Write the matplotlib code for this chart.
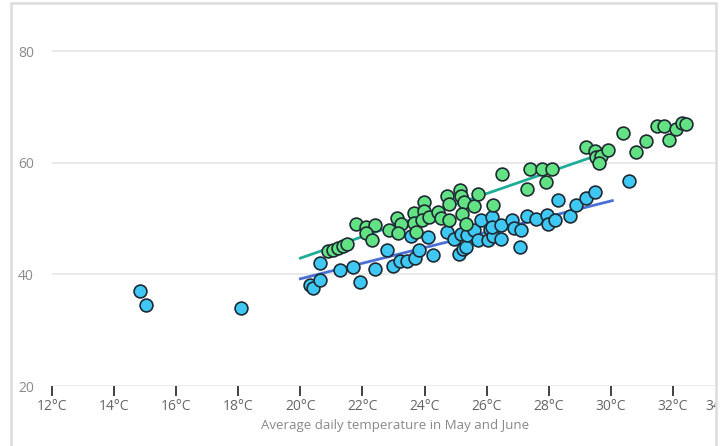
import matplotlib
matplotlib.use("Agg")
import matplotlib.pyplot as plt
from matplotlib.patches import Rectangle

plt.rcParams['font.family'] = ['Open Sans', 'DejaVu Sans']

# temperature (°C) vs value, two groups
blue_temp = [14.83, 15.02, 18.1, 20.3, 20.42, 20.62, 20.62, 21.28, 21.71, 21.92,
             22.4, 22.78, 23.0, 23.2, 23.45, 23.68, 23.83, 23.58, 24.1, 24.28,
             24.71, 24.96, 25.1, 25.23, 25.33, 25.18, 25.38, 25.6, 25.71, 25.82,
             26.03, 26.1, 26.17, 26.2, 26.19, 26.45, 26.46, 26.81, 26.89, 27.1,
             27.08, 27.31, 27.58, 27.93, 27.99, 28.2, 28.3, 28.68, 28.89, 29.2,
             29.49, 30.59]
blue_val = [37.0, 34.5, 34.0, 38.1, 37.6, 39.0, 42.1, 40.8, 41.4, 38.7,
            40.9, 44.4, 41.5, 42.3, 42.4, 42.9, 44.3, 46.9, 46.6, 43.5,
            47.5, 46.4, 43.6, 44.6, 44.9, 47.2, 47.1, 47.9, 46.1, 49.7,
            46.1, 48.1, 50.3, 46.8, 48.5, 46.3, 48.9, 49.7, 48.3, 47.9,
            44.9, 50.4, 50.0, 50.6, 49.0, 49.7, 53.4, 50.5, 52.4, 53.6,
            54.8, 56.8]

green_temp = [20.89, 21.05, 21.2, 21.37, 21.5, 21.8, 22.12, 22.39, 22.12, 22.3,
              22.87, 23.12, 23.24, 23.13, 23.67, 23.67, 23.72, 23.99, 23.99, 23.92,
              24.15, 24.42, 24.53, 24.8, 24.71, 24.8, 25.14, 25.17, 25.28, 25.2,
              25.35, 25.6, 25.71, 26.2, 26.49, 27.31, 27.39, 27.78, 28.1, 27.91,
              29.21, 29.49, 29.53, 29.7, 29.62, 29.92, 30.39, 30.8, 31.12, 31.5,
              31.71, 31.89, 32.09, 32.3, 32.43]
green_val = [44.1, 44.4, 44.7, 45.1, 45.4, 49.0, 48.5, 48.9, 47.4, 46.2,
             48.0, 50.1, 49.1, 47.4, 50.9, 49.2, 47.5, 52.9, 51.4, 49.7,
             50.3, 51.2, 50.1, 49.7, 54.1, 52.6, 55.1, 54.1, 52.9, 50.8,
             49.0, 52.3, 54.4, 52.4, 57.9, 55.2, 58.9, 58.8, 58.8, 56.6,
             62.8, 62.1, 61.0, 61.2, 59.9, 62.3, 65.4, 61.9, 63.8, 66.6,
             66.5, 64.1, 66.1, 67.1, 67.0]

# trend lines
blue_fit_x = [20.0, 30.05]
blue_fit_y = [39.2, 53.2]
green_fit_x = [20.0, 29.45]
green_fit_y = [42.9, 61.1]

x_ticks = [12, 14, 16, 18, 20, 22, 24, 26, 28, 30, 32]
x_tick_labels = [f'{t}°C' for t in x_ticks]
y_ticks = [20, 40, 60, 80]

W, H = 727, 446
fig = plt.figure(figsize=(W / 100, H / 100), dpi=100)
ax = fig.add_axes([52 / W, 1 - 386 / H, (716 - 52) / W, (386 - 3) / H])
ax.set_xlim(12, 33.39)
ax.set_ylim(20, 88.6)

for s in ax.spines.values():
    s.set_visible(False)

for y in y_ticks:
    ax.axhline(y, color='#e8e8e8', lw=1.3, zorder=0)

ax.plot(blue_fit_x, blue_fit_y, color='#4a70d6', lw=2, zorder=1)
ax.plot(green_fit_x, green_fit_y, color='#1ead97', lw=2, zorder=1)

ax.scatter(blue_temp, blue_val, s=85, color='#40c8f4', edgecolor='#1e2a33',
           linewidth=1.2, zorder=2)
ax.scatter(green_temp, green_val, s=85, color='#62e283', edgecolor='#1e2a33',
           linewidth=1.2, zorder=3)

ax.set_xticks(x_ticks)
ax.set_xticklabels(x_tick_labels)
ax.set_yticks(y_ticks)
ax.tick_params(axis='x', direction='out', length=7.5, width=1.3, color='#333333',
               labelsize=10, labelcolor='#666666', pad=2)
ax.tick_params(axis='y', length=0, labelsize=10, labelcolor='#8a8a8a', pad=13)

# the next label runs off the right edge
ax.text(33.05, -0.034, '34°C', transform=ax.get_xaxis_transform(), ha='left',
        va='top', fontsize=10, color='#666666', clip_on=False)

ax.set_xlabel('Average daily temperature in May and June', fontsize=9.5,
              color='#888888')
ax.xaxis.set_label_coords(0.517, -0.085)

# white strip and frame around the chart
fig.patches.append(Rectangle((717 / W, 0), 10 / W, 1, transform=fig.transFigure,
                             facecolor='white', edgecolor='none', zorder=5))
fig.patches.append(Rectangle((11 / W, -0.05), (716 - 11) / W, 1.05 - 3 / H,
                             transform=fig.transFigure, facecolor='none',
                             edgecolor='#dcdcdc', lw=1.8, zorder=6))

fig.savefig('out.png', dpi=100)
